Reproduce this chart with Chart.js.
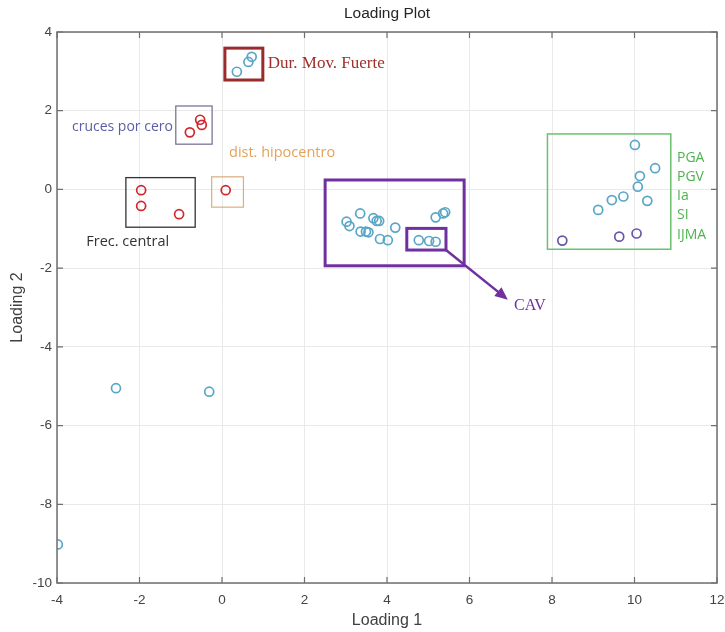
<!DOCTYPE html>
<html>
<head>
<meta charset="utf-8">
<script src="https://cdn.jsdelivr.net/npm/chart.js@4/dist/chart.umd.min.js"></script>
<style>
  html, body { margin: 0; padding: 0; background: #ffffff; }
  #wrap { width: 725px; height: 632px; position: relative; }
</style>
</head>
<body>
<div id="wrap"><canvas id="chart" width="725" height="632"></canvas></div>
<script>
// Loadings of the first two principal components
const loadingsBlue = [
  // Dur. Mov. Fuerte
  {x: 0.36, y: 2.99}, {x: 0.64, y: 3.24}, {x: 0.72, y: 3.37},
  // central group (CAV and others)
  {x: 3.02, y: -0.82}, {x: 3.09, y: -0.93}, {x: 3.35, y: -0.61}, {x: 3.36, y: -1.07},
  {x: 3.49, y: -1.07}, {x: 3.55, y: -1.09}, {x: 3.67, y: -0.73}, {x: 3.75, y: -0.80},
  {x: 3.81, y: -0.80}, {x: 3.83, y: -1.26}, {x: 4.02, y: -1.29}, {x: 4.20, y: -0.97},
  {x: 4.77, y: -1.29}, {x: 5.02, y: -1.31}, {x: 5.18, y: -1.33}, {x: 5.18, y: -0.71},
  {x: 5.36, y: -0.61}, {x: 5.41, y: -0.58},
  // PGA, PGV, Ia, SI, IJMA group
  {x: 10.01, y: 1.13}, {x: 10.50, y: 0.54}, {x: 10.13, y: 0.34}, {x: 10.08, y: 0.07},
  {x: 9.73, y: -0.18}, {x: 9.45, y: -0.27}, {x: 10.31, y: -0.29}, {x: 9.12, y: -0.52},
  // isolated loadings
  {x: -2.57, y: -5.05}, {x: -0.31, y: -5.14}, {x: -3.98, y: -9.02}
];
const loadingsRed = [
  // cruces por cero
  {x: -0.78, y: 1.45}, {x: -0.53, y: 1.77}, {x: -0.49, y: 1.64},
  // dist. hipocentro
  {x: 0.09, y: -0.02},
  // Frec. central
  {x: -1.96, y: -0.02}, {x: -1.96, y: -0.42}, {x: -1.04, y: -0.63}
];
const loadingsViolet = [
  {x: 8.25, y: -1.30}, {x: 9.63, y: -1.20}, {x: 10.05, y: -1.12}
];
const xTicks = [-4, -2, 0, 2, 4, 6, 8, 10, 12];
const yTicks = [-10, -8, -6, -4, -2, 0, 2, 4];

// Group outlines (data coordinates) with their labels
const groupBoxes = [
  {x0: 0.07, x1: 0.99, y0: 3.59, y1: 2.78, color: '#9b2a2a', width: 3},
  {x0: -1.12, x1: -0.24, y0: 2.12, y1: 1.15, color: '#6c6c8c', width: 1.2},
  {x0: -0.25, x1: 0.52, y0: 0.32, y1: -0.45, color: '#d9ad7c', width: 1.2},
  {x0: -2.33, x1: -0.65, y0: 0.30, y1: -0.96, color: '#333333', width: 1.3},
  {x0: 2.50, x1: 5.87, y0: 0.24, y1: -1.94, color: '#7030a0', width: 3},
  {x0: 4.48, x1: 5.43, y0: -0.99, y1: -1.54, color: '#7030a0', width: 3},
  {x0: 7.89, x1: 10.88, y0: 1.41, y1: -1.52, color: '#6cc070', width: 1.5}
];
const groupLabels = [
  {text: 'Dur. Mov. Fuerte', x: 1.11, y: 3.19, color: '#a0302c', font: '17px "Liberation Serif"', align: 'left'},
  {text: 'cruces por cero', x: -1.19, y: 1.58, color: '#5b5ea6', font: '14px "Open Sans"', align: 'right'},
  {text: 'dist. hipocentro', x: 0.17, y: 0.94, color: '#e3a35a', font: '14.5px "Open Sans"', align: 'left'},
  {text: 'Frec. central', x: -3.29, y: -1.34, color: '#333333', font: '14.5px "Open Sans"', align: 'left'},
  {text: 'PGA', x: 11.03, y: 0.80, color: '#4fb350', font: '14px "Open Sans"', align: 'left'},
  {text: 'PGV', x: 11.03, y: 0.32, color: '#4fb350', font: '14px "Open Sans"', align: 'left'},
  {text: 'Ia', x: 11.03, y: -0.18, color: '#4fb350', font: '14px "Open Sans"', align: 'left'},
  {text: 'SI', x: 11.03, y: -0.66, color: '#4fb350', font: '14px "Open Sans"', align: 'left'},
  {text: 'IJMA', x: 11.03, y: -1.15, color: '#4fb350', font: '14px "Open Sans"', align: 'left'},
  {text: 'CAV', x: 7.08, y: -2.96, color: '#7030a0', font: '16px "Liberation Serif"', align: 'left'}
];
const cavArrow = {x0: 5.43, y0: -1.54, x1: 6.93, y1: -2.80, color: '#7030a0'};

const frameAndNotes = {
  id: 'frameAndNotes',
  afterDraw(chart) {
    const ctx = chart.ctx;
    const xs = chart.scales.x, ys = chart.scales.y;
    const a = chart.chartArea;
    ctx.save();

    // axes box with inward tick marks
    ctx.strokeStyle = '#6f6f6f';
    ctx.lineWidth = 1.5;
    ctx.strokeRect(a.left, a.top, a.right - a.left, a.bottom - a.top);
    ctx.lineWidth = 1.2;
    xTicks.forEach(v => {
      const px = xs.getPixelForValue(v);
      ctx.beginPath();
      ctx.moveTo(px, a.bottom); ctx.lineTo(px, a.bottom - 6);
      ctx.moveTo(px, a.top); ctx.lineTo(px, a.top + 6);
      ctx.stroke();
    });
    yTicks.forEach(v => {
      const py = ys.getPixelForValue(v);
      ctx.beginPath();
      ctx.moveTo(a.left, py); ctx.lineTo(a.left + 6, py);
      ctx.moveTo(a.right, py); ctx.lineTo(a.right - 6, py);
      ctx.stroke();
    });

    // title and axis titles
    ctx.fillStyle = '#262626';
    ctx.textAlign = 'center';
    ctx.textBaseline = 'middle';
    ctx.font = '15.5px "Liberation Sans"';
    ctx.fillText('Loading Plot', (a.left + a.right) / 2, 14);
    ctx.fillStyle = '#404040';
    ctx.font = '16px "Liberation Sans"';
    ctx.fillText('Loading 1', (a.left + a.right) / 2, 621);
    ctx.save();
    ctx.translate(18, (a.top + a.bottom) / 2);
    ctx.rotate(-Math.PI / 2);
    ctx.fillText('Loading 2', 0, 0);
    ctx.restore();

    // group outlines
    groupBoxes.forEach(b => {
      const x0 = xs.getPixelForValue(b.x0), x1 = xs.getPixelForValue(b.x1);
      const y0 = ys.getPixelForValue(b.y0), y1 = ys.getPixelForValue(b.y1);
      ctx.strokeStyle = b.color;
      ctx.lineWidth = b.width;
      ctx.strokeRect(x0, y0, x1 - x0, y1 - y0);
    });

    // arrow to the CAV label
    const ax0 = xs.getPixelForValue(cavArrow.x0), ay0 = ys.getPixelForValue(cavArrow.y0);
    const ax1 = xs.getPixelForValue(cavArrow.x1), ay1 = ys.getPixelForValue(cavArrow.y1);
    const ang = Math.atan2(ay1 - ay0, ax1 - ax0);
    const head = 14;
    ctx.strokeStyle = cavArrow.color;
    ctx.fillStyle = cavArrow.color;
    ctx.lineWidth = 2.5;
    ctx.beginPath();
    ctx.moveTo(ax0, ay0);
    ctx.lineTo(ax1 - head * 0.8 * Math.cos(ang), ay1 - head * 0.8 * Math.sin(ang));
    ctx.stroke();
    ctx.beginPath();
    ctx.moveTo(ax1, ay1);
    ctx.lineTo(ax1 - head * Math.cos(ang - 0.42), ay1 - head * Math.sin(ang - 0.42));
    ctx.lineTo(ax1 - head * Math.cos(ang + 0.42), ay1 - head * Math.sin(ang + 0.42));
    ctx.closePath();
    ctx.fill();

    // group labels
    ctx.textBaseline = 'middle';
    groupLabels.forEach(l => {
      ctx.fillStyle = l.color;
      ctx.font = l.font;
      ctx.textAlign = l.align;
      ctx.fillText(l.text, xs.getPixelForValue(l.x), ys.getPixelForValue(l.y));
    });
    ctx.restore();
  }
};

const pointStyle = (color) => ({
  pointStyle: 'circle',
  pointRadius: 4.5,
  pointHoverRadius: 4.5,
  pointBorderWidth: 1.7,
  pointBorderColor: color,
  pointBackgroundColor: 'rgba(0,0,0,0)',
  showLine: false
});

new Chart(document.getElementById('chart'), {
  type: 'scatter',
  data: {
    datasets: [
      Object.assign({label: 'loadings', data: loadingsBlue}, pointStyle('#5aa6c6')),
      Object.assign({label: 'loadings (rojo)', data: loadingsRed}, pointStyle('#d0262c')),
      Object.assign({label: 'loadings (violeta)', data: loadingsViolet}, pointStyle('#6b55a8'))
    ]
  },
  options: {
    responsive: false,
    animation: false,
    events: [],
    layout: {padding: {top: 32, right: 8, left: 0, bottom: 0}},
    plugins: {legend: {display: false}, tooltip: {enabled: false}, title: {display: false}},
    scales: {
      x: {
        type: 'linear', min: -4, max: 12,
        afterBuildTicks: s => { s.ticks = xTicks.map(v => ({value: v})); },
        ticks: {color: '#444444', font: {family: 'Liberation Sans', size: 13.5}, padding: 9, maxRotation: 0},
        grid: {color: '#e9e9e9', lineWidth: 1, drawTicks: false},
        border: {display: false},
        afterFit: s => { s.height = 49; s.paddingLeft = 0; s.paddingRight = 0; }
      },
      y: {
        type: 'linear', min: -10, max: 4,
        afterBuildTicks: s => { s.ticks = yTicks.map(v => ({value: v})); },
        ticks: {color: '#444444', font: {family: 'Liberation Sans', size: 13.5}, padding: 5},
        grid: {color: '#e9e9e9', lineWidth: 1, drawTicks: false},
        border: {display: false},
        afterFit: s => { s.width = 57; s.paddingTop = 0; s.paddingBottom = 0; }
      }
    }
  },
  plugins: [frameAndNotes]
});
</script>
</body>
</html>
